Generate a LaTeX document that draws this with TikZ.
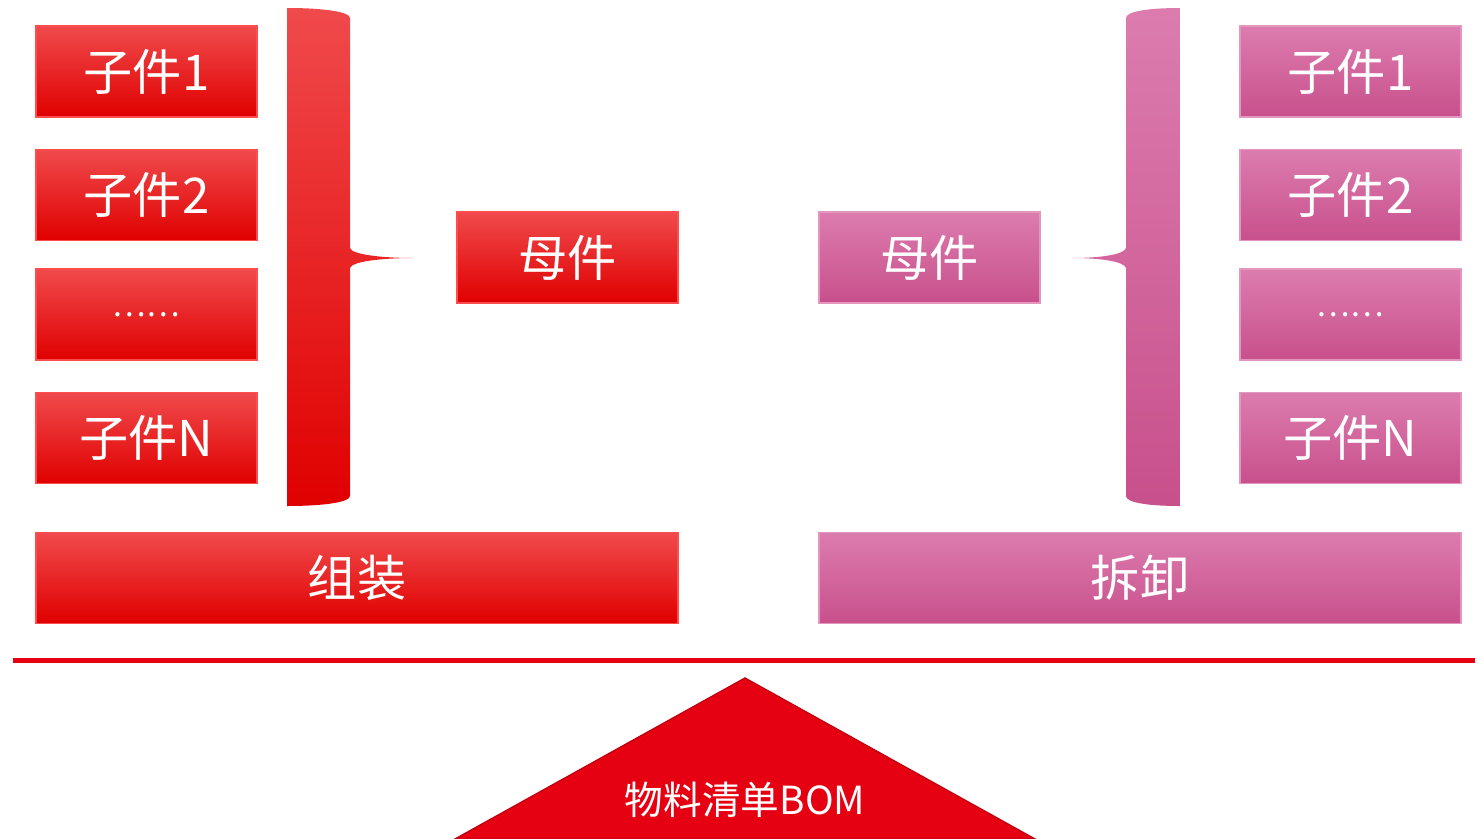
\documentclass[tikz,border=0pt]{standalone}
\usepackage{fontspec}
\setmainfont{Noto Sans CJK SC}
\usetikzlibrary{positioning}
\definecolor{redtop}{HTML}{F04A4C}
\definecolor{redmid}{HTML}{EE0810}
\definecolor{redbot}{HTML}{E00000}
\definecolor{pinktop}{HTML}{DC7CAE}
\definecolor{pinkmid}{HTML}{D8649F}
\definecolor{pinkbot}{HTML}{C8508C}
\definecolor{bomred}{HTML}{E50012}

\begin{document}
\begin{tikzpicture}[
  x=0.01cm, y=-0.01cm,
  part/.style={rectangle, minimum width=2.21cm, minimum height=0.91cm, inner sep=0pt, text=white, font=\fontsize{14}{14}\selectfont},
  redpart/.style={part, draw=red!70!white, line width=0.4pt, top color=redtop, middle color=redmid, bottom color=redbot},
  pinkpart/.style={part, draw=pinktop!80!white, line width=0.4pt, top color=pinktop, middle color=pinkmid, bottom color=pinkbot},
  dots/.style={font=\fontsize{9}{9}\selectfont},
  bar/.style={minimum width=6.42cm},
  node distance=0.31cm
]
\useasboundingbox (0,0) rectangle (1478,839);

% Left side: assembly
\node[redpart] (l1) at (146.5,71.5) {子件1};
\node[redpart, below=of l1] (l2) {子件2};
\node[redpart, dots, below=0.27cm of l2] (l3) {……};
\node[redpart, below=of l3] (ln) {子件N};
\node[redpart] (lparent) at (567.5,257.5) {母件};
\node[redpart, bar] (assemble) at (357,578) {组装};

% Left brace
\shade[top color=redtop, middle color=redmid, bottom color=redbot]
  (287,8) -- (287,506) .. controls (325,506) and (350,502) .. (350,496)
  -- (350,268) .. controls (352,261) and (385,258) .. (413,258)
  .. controls (385,258) and (352,255) .. (350,248)
  -- (350,18) .. controls (350,12) and (325,8) .. (287,8) -- cycle;

% Right side: disassembly
\node[pinkpart] (r1) at (1350.5,71.5) {子件1};
\node[pinkpart, below=of r1] (r2) {子件2};
\node[pinkpart, dots, below=0.27cm of r2] (r3) {……};
\node[pinkpart, below=of r3] (rn) {子件N};
\node[pinkpart] (rparent) at (929.5,257.5) {母件};
\node[pinkpart, bar] (disassemble) at (1140,578) {拆卸};

% Right brace
\shade[top color=pinktop, middle color=pinkmid, bottom color=pinkbot]
  (1180,8) -- (1180,506) .. controls (1145,506) and (1126,502) .. (1126,496)
  -- (1126,268) .. controls (1124,261) and (1098,258) .. (1072,258)
  .. controls (1098,258) and (1124,255) .. (1126,248)
  -- (1126,18) .. controls (1126,12) and (1145,8) .. (1180,8) -- cycle;

% Base line and BOM triangle
\coordinate (lineL) at (13,660);
\coordinate (lineR) at (1475,660);
\draw[bomred, line width=0.5mm] (lineL) -- (lineR);
\coordinate (apex) at (745,678);
\coordinate (baseL) at (455,839);
\coordinate (baseR) at (1035,839);
\fill[bomred, draw=bomred!85!black, line width=0.4pt] (apex) -- (baseR) -- (baseL) -- cycle;
\node[text=white, font=\fontsize{11}{11}\selectfont] (bom) at (745,800) {物料清单BOM};
\end{tikzpicture}
\end{document}
